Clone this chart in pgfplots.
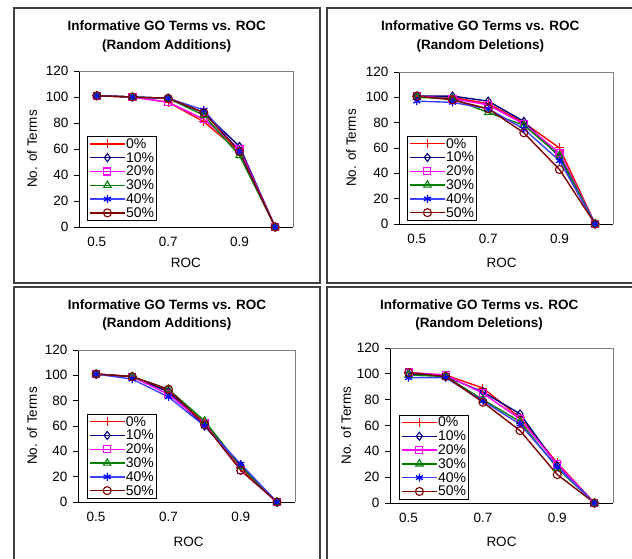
\documentclass[border=0pt]{standalone}
\usepackage{pgfplots}
\pgfplotsset{compat=1.18}
\usepackage{pgfplotstable}
\usepackage{fontspec}
\setmainfont{Liberation Sans}
\usetikzlibrary{plotmarks}

\definecolor{cRed}{HTML}{FF0000}
\definecolor{cNavy}{HTML}{000080}
\definecolor{cMag}{HTML}{FF00FF}
\definecolor{cGreen}{HTML}{008000}
\definecolor{cBlue}{HTML}{0000FF}
\definecolor{cBlueLine}{HTML}{4040FF}
\definecolor{cMaroon}{HTML}{800000}
\definecolor{frameGray}{HTML}{404040}

% x = category index (0.5 ... 1.0 -> 0 ... 5)
\pgfplotstableread{
x p0  p10 p20 p30 p40 p50
0 101 101 101 101 101 101
1 100 100 100 100 100 100
2 96  99  96  99  99  99
3 81  88  83  86  90  88
4 58  62  60  55  58  58
5 0   0   0   0   0   0
}\addTop
\pgfplotstableread{
x p0  p10 p20 p30 p40 p50
0 101 101 101 100 97  101
1 100 101 99  99  96  98
2 95  97  94  88  91  91
3 80  81  79  78  75  72
4 60  53  56  54  50  43
5 0   0   0   0   0   0
}\delTop
\pgfplotstableread{
x p0  p10 p20 p30 p40 p50
0 101 101 101 101 101 101
1 99  99  99  99  97  99
2 88  87  85  89  83  89
3 63  60  62  64  60  61
4 27  29  25  28  30  25
5 0   0   0   0   0   0
}\addBot
\pgfplotstableread{
x p0  p10 p20 p30 p40 p50
0 101 100 101 99  97  101
1 99  98  99  98  97  98
2 89  86  85  80  79  78
3 66  69  65  63  61  56
4 31  29  30  27  28  22
5 0   0   0   0   0   0
}\delBot

\pgfplotsset{
  panel/.style={
    scale only axis,
    anchor=south west,
    xmin=-0.5, xmax=5.5,
    ymin=0, ymax=120,
    ytick={0,20,...,120},
    xtick={0,2,4},
    xticklabels={0.5,0.7,0.9},
    extra x ticks={-0.5,0.5,...,5.5},
    extra x tick labels={},
    extra x tick style={major tick length=5pt, tick style={black, line width=0.8pt}},
    xtick style={draw=none},
    axis x line*=bottom,
    axis y line*=left,
    axis line style={black, line width=0.8pt, -},
    ytick style={black, line width=0.8pt},
    major tick length=5pt,
    tick align=outside,
    ticklabel style={font=\fontsize{13.5}{15}\selectfont},
    /pgf/number format/assume math mode=true,
    xticklabel style={yshift=-2pt},
    yticklabel style={xshift=-2pt},
    xlabel={ROC},
    ylabel={No. of Terms},
    label style={font=\fontsize{13.5}{15}\selectfont},
    title style={font=\bfseries\fontsize{13.5}{18.5}\selectfont, align=center, anchor=center, inner sep=0pt},
    legend cell align=left,
    legend style={draw=black, line width=0.6pt, fill=white,
      font=\fontsize{14}{13.3}\selectfont, anchor=north west,
      inner xsep=2pt, inner ysep=2pt, row sep=2.8pt,
      nodes={inner sep=0.5pt, text height=9.5pt, text depth=0.5pt}},
    after end axis/.code={
      \draw[gray, line width=0.8pt] (rel axis cs:0,1) -- (rel axis cs:1,1) -- (rel axis cs:1,0);},
    clip=false,
  },
  ser/.style={line width=1.4pt,
    legend image code/.code={
      \draw[mark repeat=2,mark phase=2] plot coordinates {(7pt,0pt)(24.5pt,0pt)(42pt,0pt)};}},
  s0/.style={ser, cRed, mark=+, mark size=4.5pt, mark options={line width=1pt}},
  s10/.style={ser, cNavy, mark=diamond, mark size=4pt, mark options={fill=white, line width=1.1pt}},
  s20/.style={ser, cMag, mark=square, mark size=3.5pt, mark options={fill=white, line width=1.1pt}},
  s30/.style={ser, cGreen, mark=triangle, mark size=4.2pt, mark options={fill=white, line width=1.1pt}},
  s40/.style={ser, cBlueLine, mark=asterisk, mark size=4pt, mark options={cBlue, line width=1.3pt}},
  s50/.style={ser, cMaroon, mark=o, mark size=4pt, mark options={fill=white, line width=1.1pt}},
}

\newcommand{\allseries}[1]{%
  \addplot[s0]  table[x=x,y=p0]  {#1};
  \addplot[s10] table[x=x,y=p10] {#1};
  \addplot[s20] table[x=x,y=p20] {#1};
  \addplot[s30] table[x=x,y=p30] {#1};
  \addplot[s40] table[x=x,y=p40] {#1};
  \addplot[s50] table[x=x,y=p50] {#1};
  \legend{0\%,10\%,20\%,30\%,40\%,50\%}}

\begin{document}
\begin{tikzpicture}
\useasboundingbox (0pt,0pt) rectangle (632pt,558pt);

% panel frames
\draw[frameGray, line width=1.2pt] (14pt,275pt) rectangle (320pt,550pt);
\draw[frameGray, line width=1.2pt] (327pt,275pt) rectangle (640pt,550pt);
\draw[frameGray, line width=1.2pt] (14pt,-10pt) rectangle (320pt,271pt);
\draw[frameGray, line width=1.2pt] (327pt,-10pt) rectangle (640pt,271pt);

% top left: random additions
\begin{axis}[panel,
  at={(79pt,331pt)}, width=214pt, height=156pt,
  title={Informative GO Terms vs. ROC\\(Random Additions)},
  title style={at={(rel axis cs:0.41,1)}, yshift=28.5pt},
  ylabel style={at={(rel axis cs:0,0.5)}, yshift=47pt, anchor=center},
  xlabel style={at={(rel axis cs:0.5,0)}, yshift=-36pt, anchor=center},
  legend style={at={(rel axis cs:0.037,0.583)}},
]
\allseries{\addTop}
\end{axis}

% top right: random deletions
\begin{axis}[panel,
  at={(399pt,334pt)}, width=214pt, height=152pt,
  title={Informative GO Terms vs. ROC\\(Random Deletions)},
  title style={at={(rel axis cs:0.38,1)}, yshift=29.5pt},
  ylabel style={at={(rel axis cs:0,0.5)}, yshift=48pt, anchor=center},
  xlabel style={at={(rel axis cs:0.48,0)}, yshift=-39pt, anchor=center},
  legend style={at={(rel axis cs:0.037,0.58)}},
]
\allseries{\delTop}
\end{axis}

% bottom left: random additions
\begin{axis}[panel,
  at={(78pt,56pt)}, width=217pt, height=152pt,
  title={Informative GO Terms vs. ROC\\(Random Additions)},
  title style={at={(rel axis cs:0.41,1)}, yshift=29pt},
  ylabel style={at={(rel axis cs:0,0.5)}, yshift=46pt, anchor=center},
  xlabel style={at={(rel axis cs:0.51,0)}, yshift=-40pt, anchor=center},
  legend style={at={(rel axis cs:0.04,0.58)}},
]
\allseries{\addBot}
\end{axis}

% bottom right: random deletions
\begin{axis}[panel,
  at={(390pt,55pt)}, width=223pt, height=155pt,
  title={Informative GO Terms vs. ROC\\(Random Deletions)},
  title style={at={(rel axis cs:0.40,1)}, yshift=27pt},
  ylabel style={at={(rel axis cs:0,0.5)}, yshift=44pt, anchor=center},
  xlabel style={at={(rel axis cs:0.50,0)}, yshift=-39pt, anchor=center},
  legend style={at={(rel axis cs:0.04,0.57)}},
]
\allseries{\delBot}
\end{axis}
\end{tikzpicture}
\end{document}
